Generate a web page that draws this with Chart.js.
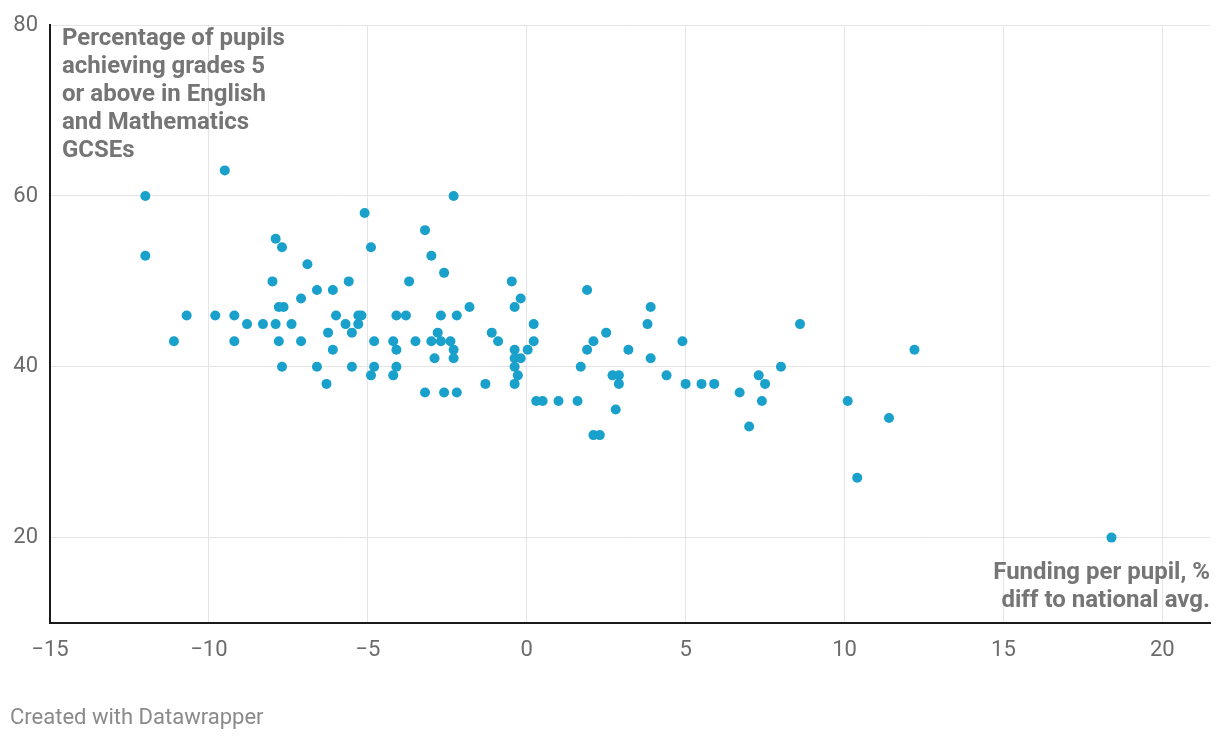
<!DOCTYPE html>
<html>
<head>
<meta charset="utf-8">
<script src="https://cdn.jsdelivr.net/npm/chart.js@4.4.1/dist/chart.umd.min.js"></script>
<style>
  html, body { margin: 0; padding: 0; background: #fff; }
  #wrap { width: 1220px; height: 740px; position: relative; }
</style>
</head>
<body>
<div id="wrap"><canvas id="chart" width="1220" height="740"></canvas></div>
<script>
// funding per pupil, % diff to national avg.
const fundingDiff = [
  -12.0, -12.0, -9.5, -11.1, -10.7, -9.8, -9.2, -9.2, -8.8, -8.3,
  -8.0, -7.9, -7.9, -7.8, -7.8, -7.65, -7.7, -7.7, -7.4, -7.1,
  -7.1, -6.9, -6.6, -6.6, -6.1, -6.25, -6.1, -6.3, -6.0, -5.7,
  -5.6, -5.5, -5.5, -5.3, -5.2, -5.3, -5.1, -4.9, -4.8, -4.9,
  -4.8, -4.2, -4.1, -4.1, -3.8, -4.1, -4.2, -3.7, -3.5, -3.2,
  -3.2, -3.0, -3.0, -2.8, -2.9, -2.7, -2.7, -2.6, -2.6, -2.4,
  -2.3, -2.3, -2.3, -2.2, -2.2, -1.8, -1.3, -1.1, -0.9, -0.47,
  -0.38, -0.19, -0.38, -0.38, -0.19, -0.38, -0.28, -0.38, 0.03, 0.22,
  0.22, 0.3, 0.5, 1.0, 1.6, 1.7, 1.9, 1.9, 2.1, 2.5,
  2.1, 2.3, 2.7, 2.9, 2.9, 2.8, 3.2, 3.8, 3.9, 3.9,
  4.4, 4.9, 5.0, 5.5, 5.9, 6.7, 7.0, 7.3, 7.4, 7.5,
  8.0, 8.6, 10.1, 10.4, 11.4, 12.2, 18.4
];
// % pupils achieving grade 5+ in English and Maths
const gradePct = [
  60, 53, 63, 43, 46, 46, 46, 43, 45, 45,
  50, 55, 45, 43, 47, 47, 54, 40, 45, 48,
  43, 52, 49, 40, 49, 44, 42, 38, 46, 45,
  50, 44, 40, 46, 46, 45, 58, 54, 43, 39,
  40, 43, 42, 46, 46, 40, 39, 50, 43, 56,
  37, 53, 43, 44, 41, 43, 46, 51, 37, 43,
  60, 42, 41, 46, 37, 47, 38, 44, 43, 50,
  47, 48, 42, 41, 41, 40, 39, 38, 42, 45,
  43, 36, 36, 36, 36, 40, 49, 42, 43, 44,
  32, 32, 39, 39, 38, 35, 42, 45, 47, 41,
  39, 43, 38, 38, 38, 37, 33, 39, 36, 38,
  40, 45, 36, 27, 34, 42, 20
];
const xTicks = [-15, -10, -5, 0, 5, 10, 15, 20];
const yTicks = [20, 40, 60, 80];
const yTitle = ['Percentage of pupils', 'achieving grades 5', 'or above in English', 'and Mathematics', 'GCSEs'];
const xTitle = ['Funding per pupil, %', 'diff to national avg.'];

const points = fundingDiff.map((x, i) => ({ x: x, y: gradePct[i] }));

const labelsPlugin = {
  id: 'labels',
  afterDraw(chart) {
    const ctx = chart.ctx;
    const area = chart.chartArea;
    ctx.save();
    ctx.fillStyle = '#757575';
    ctx.font = 'bold 24px Roboto';
    ctx.textBaseline = 'middle';
    ctx.textAlign = 'left';
    yTitle.forEach((t, i) => ctx.fillText(t, area.left + 12, area.top + 14 + i * 28));
    ctx.textAlign = 'right';
    xTitle.forEach((t, i) => ctx.fillText(t, area.right, area.bottom - 50 + i * 28));
    ctx.fillStyle = '#8a8a8a';
    ctx.font = '22px Roboto';
    ctx.textAlign = 'left';
    ctx.fillText('Created with Datawrapper', 10, 718);
    ctx.restore();
  }
};

new Chart(document.getElementById('chart'), {
  type: 'scatter',
  data: {
    datasets: [{
      data: points,
      backgroundColor: '#19a0cb',
      borderWidth: 0,
      pointRadius: 5,
      pointHoverRadius: 5
    }]
  },
  options: {
    responsive: false,
    animation: false,
    layout: { padding: { top: 24, right: 10, bottom: 77, left: 0 } },
    plugins: { legend: { display: false }, tooltip: { enabled: false } },
    scales: {
      x: {
        type: 'linear',
        min: -15,
        max: 21.5,
        afterBuildTicks: s => { s.ticks = xTicks.map(v => ({ value: v })); },
        afterFit: s => { s.height = 40; },
        grid: { color: '#e5e5e5', lineWidth: 1, drawTicks: false },
        border: { color: '#1a1a1a', width: 2 },
        ticks: {
          color: '#6b6b6b',
          font: { family: 'Roboto', size: 22 },
          padding: 14,
          maxRotation: 0,
          callback: v => String(v).replace('-', '\u2212')
        }
      },
      y: {
        type: 'linear',
        min: 10,
        max: 80,
        afterBuildTicks: s => { s.ticks = yTicks.map(v => ({ value: v })); },
        afterFit: s => { s.width = 50; },
        grid: { color: '#e5e5e5', lineWidth: 1, drawTicks: false },
        border: { color: '#1a1a1a', width: 2 },
        ticks: {
          color: '#6b6b6b',
          font: { family: 'Roboto', size: 22 },
          padding: 12
        }
      }
    }
  },
  plugins: [labelsPlugin]
});
</script>
</body>
</html>
